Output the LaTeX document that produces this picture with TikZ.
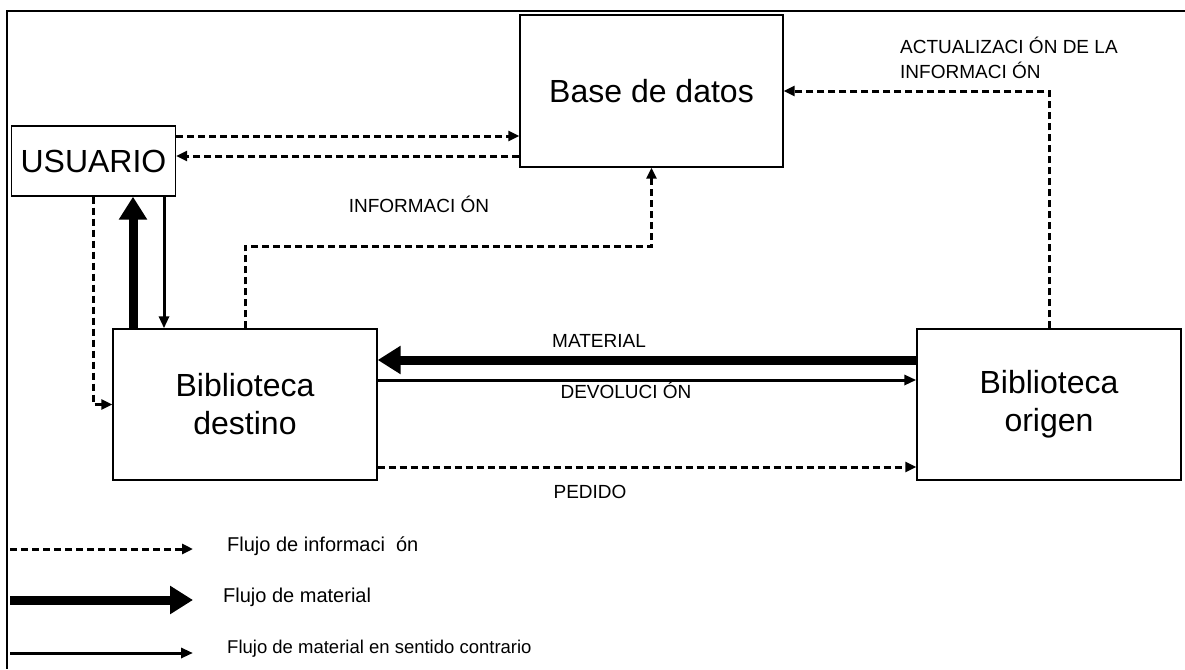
\documentclass[tikz,border=0pt]{standalone}
\usepackage{fontspec}
\setmainfont{Liberation Sans}
\usetikzlibrary{arrows.meta}

\tikzset{
  caja/.style={draw,line width=1.4pt,inner sep=0pt,align=center,font=\fontsize{32}{38}\selectfont},
  info/.style={line width=3pt,dash pattern=on 7pt off 4pt,-{Triangle[length=11pt,width=10pt]}},
  material/.style={line width=9pt,-{Triangle[length=23pt,width=27pt]}},
  devol/.style={line width=3pt,-{Triangle[length=12pt,width=10pt]}},
  etiq/.style={inner sep=0pt,anchor=base,font=\fontsize{19}{25}\selectfont},
  leyenda/.style={inner sep=0pt,anchor=base west,font=\fontsize{20}{24}\selectfont}
}

\begin{document}
\begin{tikzpicture}[line join=miter,x=1pt,y=-1pt]
			\useasboundingbox (0,0) rectangle (1185,669);
			\draw [line width=1.6pt] (1185,11) -- (7,11) -- (7,669);
			% cajas
			\node [caja,minimum width=263pt,minimum height=152pt] (base) at (651.5,91) {Base de datos};
			\node [caja,minimum width=164pt,minimum height=70pt] (usuario) at (93.5,161) {USUARIO};
			\node [caja,minimum width=264pt,minimum height=151pt] (destino) at (245,404.5) {Biblioteca\\destino};
			\node [caja,minimum width=264pt,minimum height=151pt] (origen) at (1049,404.5) {Biblioteca\\origen};
			\coordinate (a1) at (0,136);
			\coordinate (a2) at (0,156);
			\coordinate (k1) at (133,0);
			\coordinate (k2) at (164,0);
			\coordinate (m1) at (0,360);
			\coordinate (m2) at (0,380);
			\coordinate (m3) at (0,467);
			% flechas
			\draw [info] (usuario.east |- a1) -- (base.west |- a1);
			\draw [info] (base.west |- a2) -- (usuario.east |- a2);
			\draw [info] (usuario.south) |- (destino.west);
			\draw [material] (destino.north -| k1) -- (usuario.south -| k1);
			\draw [devol] (usuario.south -| k2) -- (destino.north -| k2);
			\draw [info] (destino.north) -- ++(0,-82) -| (base.south);
			\draw [info] (origen.north) |- (base.east);
			\draw [material] (origen.west |- m1) -- (destino.east |- m1);
			\draw [devol] (destino.east |- m2) -- (origen.west |- m2);
			\draw [info] (destino.east |- m3) -- (origen.west |- m3);
			% etiquetas
			\node [etiq] (tinfo) at (419,212) {INFORMACI\ ÓN};
			\node [etiq,anchor=base west] (tact1) at (900,53) {ACTUALIZACI ÓN DE LA};
			\node [etiq,anchor=base west] (tact2) at (900,78) {INFORMACI ÓN};
			\node [etiq] (tmat) at (599,347) {MATERIAL};
			\node [etiq] (tdev) at (626,398) {DEVOLUCI ÓN};
			\node [etiq] (tped) at (590,498) {PEDIDO};
			% leyenda
			\coordinate (l1a) at (10,549);
			\coordinate (l1b) at (193,549);
			\coordinate (l2a) at (10,600);
			\coordinate (l2b) at (193,600);
			\coordinate (l3a) at (10,653);
			\coordinate (l3b) at (193,653);
			\draw [info] (l1a) -- (l1b);
			\draw [material] (l2a) -- (l2b);
			\draw [devol] (l3a) -- (l3b);
			\node [leyenda] (ley1) at (227,551) {Flujo de informaci\ \ ón};
			\node [leyenda] (ley2) at (223,602) {Flujo de material};
			\node [leyenda,font=\fontsize{18.5}{22}\selectfont] (ley3) at (227,653) {Flujo de material en sentido contrario};
\end{tikzpicture}
\end{document}
